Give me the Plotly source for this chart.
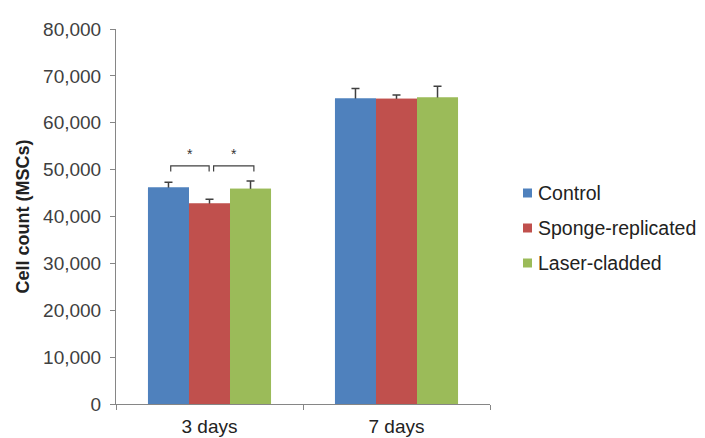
import plotly.graph_objects as go

categories = ["3 days", "7 days"]
series_names = ["Control", "Sponge-replicated", "Laser-cladded"]
control = [46200, 65200]
sponge = [42800, 65100]
laser = [45900, 65400]
control_err = [1100, 2100]
sponge_err = [900, 800]
laser_err = [1700, 2400]
colors = ["#4F81BD", "#C0504D", "#9BBB59"]
y_ticks = [0, 10000, 20000, 30000, 40000, 50000, 60000, 70000, 80000]

values = [control, sponge, laser]
errors = [control_err, sponge_err, laser_err]

bargap = 0.342
bar_w = (1 - bargap) / 3
FONT = "Liberation Sans, Arial"

# layout geometry (figure pixels)
W, H = 697, 430
ML, MR, MT, MB = 108, 215, 21, 34
PW = W - ML - MR
PH = H - MT - MB

fig = go.Figure()
# bars with symmetric error bars (lower half hidden by a covering bar drawn afterwards)
for name, vals, errs, col in zip(series_names, values, errors, colors):
    fig.add_trace(go.Bar(
        x=categories, y=vals, name=name, offsetgroup=name,
        marker=dict(color=col, line=dict(width=0)),
        error_y=dict(type="data", array=errs, color="#404040", thickness=1.5, width=4),
    ))
for name, vals, col in zip(series_names, values, colors):
    fig.add_trace(go.Bar(
        x=categories, y=vals, name=name, offsetgroup=name,
        marker=dict(color=col, line=dict(width=0)), hoverinfo="skip",
    ))

# significance brackets (3 days): Control vs Sponge, Sponge vs Laser
bracket_top = 50800
bracket_bot = 49600
star_y = 53300
pairs = [(-bar_w + 0.012, -0.002), (0.022, bar_w + 0.018)]
for x0, x1 in pairs:
    fig.add_shape(type="path", xref="x", yref="y",
                  path=f"M {x0} {bracket_bot} L {x0} {bracket_top} L {x1} {bracket_top} L {x1} {bracket_bot}",
                  line=dict(color="#404040", width=1.2))
    fig.add_annotation(x=(x0 + x1) / 2, y=star_y, xref="x", yref="y", text="*",
                       showarrow=False, font=dict(family=FONT, size=14, color="#333333"))

# legend drawn manually (square swatches + labels) to the right of the plot
leg_sq_left = 407      # px from plot left
leg_sq_size = 9
leg_text_left = 420
leg_first_y = 211      # px above plot bottom
leg_step = 35
for i, (name, col) in enumerate(zip(series_names, colors)):
    cy = (leg_first_y - i * leg_step) / PH
    fig.add_shape(type="rect", xref="paper", yref="paper",
                  x0=leg_sq_left / PW, x1=(leg_sq_left + leg_sq_size) / PW,
                  y0=cy - leg_sq_size / 2 / PH, y1=cy + leg_sq_size / 2 / PH,
                  fillcolor=col, line=dict(width=0))
    fig.add_annotation(x=leg_text_left / PW, y=cy, xref="paper", yref="paper",
                       xanchor="left", yanchor="middle", text=name, showarrow=False,
                       font=dict(family=FONT, size=19.5, color="#222222"))

fig.update_layout(
    width=W, height=H,
    margin=dict(l=ML, r=MR, t=MT, b=MB),
    paper_bgcolor="white", plot_bgcolor="white",
    barmode="group", bargap=bargap, bargroupgap=0,
    font=dict(family=FONT, size=19, color="#404040"),
    showlegend=False,
)
fig.update_xaxes(
    type="category", showline=True, linecolor="#868686", linewidth=1,
    ticks="outside", tickson="boundaries", ticklen=5, tickcolor="#868686",
    tickfont=dict(size=19, color="#222222"), showgrid=False, zeroline=False,
    automargin=False, ticklabelstandoff=5,
)
fig.update_yaxes(
    range=[0, 80000], tickvals=y_ticks, tickformat=",d",
    showline=True, linecolor="#868686", linewidth=1,
    ticks="outside", ticklen=5, tickcolor="#868686",
    tickfont=dict(size=19, color="#404040"), showgrid=False, zeroline=False,
    automargin=False, ticklabelstandoff=5,
    title=dict(text="<b>Cell count (MSCs)</b>", font=dict(size=18, color="#222222"), standoff=8),
)

fig.write_html("out.html")
